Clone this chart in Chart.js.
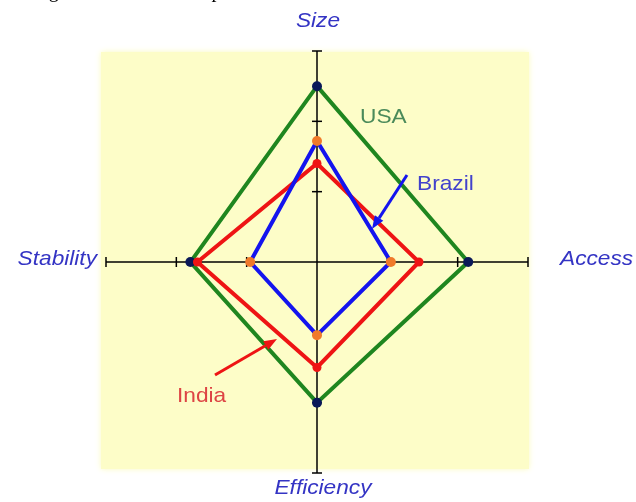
<!DOCTYPE html>
<html><head><meta charset="utf-8">
<script src="https://cdn.jsdelivr.net/npm/chart.js@4/dist/chart.umd.min.js"></script>
<style>
html,body{margin:0;padding:0;background:#fff;overflow:hidden}
#wrap{position:relative;width:636px;height:502px;overflow:hidden}
#cap{position:absolute;left:32px;top:-20px;font:20px/20px "Liberation Serif",serif;color:#000;white-space:nowrap}
canvas{position:absolute;left:0;top:0}
</style></head><body>
<div id="wrap"><canvas id="c" width="636" height="502"></canvas><div id="cap">Figure 1: Nations compared</div></div>
<script>
const axes = ['Size', 'Access', 'Efficiency', 'Stability'];
const usa = [2.5, 2.15, 2.0, 1.8];
const india = [1.4, 1.45, 1.5, 1.7];
const brazil = [1.72, 1.05, 1.04, 0.95];
const tickValues = [1, 2];
const scaleMax = 3;

function arrow(ctx, x1, y1, x2, y2, color) {
  ctx.save();
  ctx.strokeStyle = color; ctx.fillStyle = color; ctx.lineWidth = 3;
  const a = Math.atan2(y2 - y1, x2 - x1);
  const hl = 13, hw = 5;
  const bx = x2 - hl * Math.cos(a), by = y2 - hl * Math.sin(a);
  ctx.beginPath(); ctx.moveTo(x1, y1); ctx.lineTo(bx, by); ctx.stroke();
  ctx.beginPath();
  ctx.moveTo(x2, y2);
  ctx.lineTo(bx + hw * Math.sin(a), by - hw * Math.cos(a));
  ctx.lineTo(bx - hw * Math.sin(a), by + hw * Math.cos(a));
  ctx.closePath(); ctx.fill();
  ctx.restore();
}

function stretchText(ctx, text, x, y, align, sx) {
  const w = ctx.measureText(text).width * sx;
  let left = x;
  if (align === 'center') left = x - w / 2;
  else if (align === 'right') left = x - w;
  ctx.save();
  ctx.textAlign = 'left';
  ctx.translate(left, y);
  ctx.scale(sx, 1);
  ctx.fillText(text, 0, 0);
  ctx.restore();
}

const deco = {
  id: 'deco',
  beforeDraw(chart) {
    const ctx = chart.ctx;
    ctx.save();
    ctx.fillStyle = '#ffffff'; ctx.fillRect(0, 0, chart.width, chart.height);
    ctx.shadowColor = '#fbfbc0'; ctx.shadowBlur = 6;
    ctx.fillStyle = '#fdfdc8';
    ctx.fillRect(101, 52, 428, 417);
    ctx.restore();
  },
  beforeDatasetsDraw(chart) {
    const s = chart.scales.r, ctx = chart.ctx;
    ctx.save();
    ctx.strokeStyle = '#000'; ctx.lineWidth = 1.5;
    axes.forEach((a, i) => {
      const end = s.getPointPositionForValue(i, scaleMax);
      ctx.beginPath(); ctx.moveTo(s.xCenter, s.yCenter); ctx.lineTo(end.x, end.y); ctx.stroke();
      tickValues.concat([scaleMax]).forEach(v => {
        const p = s.getPointPositionForValue(i, v);
        const px = -Math.sin(p.angle), py = Math.cos(p.angle), h = 5;
        ctx.beginPath(); ctx.moveTo(p.x - px * h, p.y - py * h); ctx.lineTo(p.x + px * h, p.y + py * h); ctx.stroke();
      });
    });
    ctx.restore();
  },
  afterDraw(chart) {
    const s = chart.scales.r, ctx = chart.ctx;
    ctx.save();
    ctx.font = 'italic 21px "Liberation Sans", Arial, sans-serif';
    ctx.fillStyle = '#3434c4';
    ctx.textBaseline = 'alphabetic';
    const sx = 1.08;
    const top = s.getPointPositionForValue(0, scaleMax);
    const right = s.getPointPositionForValue(1, scaleMax);
    const bottom = s.getPointPositionForValue(2, scaleMax);
    const left = s.getPointPositionForValue(3, scaleMax);
    stretchText(ctx, axes[0], top.x + 1, top.y - 24, 'center', sx);
    stretchText(ctx, axes[1], right.x + 32, right.y + 3, 'left', sx);
    stretchText(ctx, axes[2], bottom.x + 6, bottom.y + 21, 'center', sx);
    stretchText(ctx, axes[3], left.x - 9, left.y + 3, 'right', sx);

    ctx.font = '21px "Liberation Sans", Arial, sans-serif';
    ctx.fillStyle = '#4a8a5a'; stretchText(ctx, 'USA', 360, 123, 'left', sx);
    ctx.fillStyle = '#4242cc'; stretchText(ctx, 'Brazil', 417, 190, 'left', sx);
    ctx.fillStyle = '#dd4444'; stretchText(ctx, 'India', 177, 402, 'left', sx);
    ctx.restore();
    arrow(ctx, 407, 175, 372, 229, '#1414ee');
    arrow(ctx, 215, 375, 277, 339, '#ee1414');
  }
};

new Chart(document.getElementById('c'), {
  type: 'radar',
  data: {
    labels: axes,
    datasets: [
      { label: 'Brazil', data: brazil, borderColor: '#1414ee', borderWidth: 4, backgroundColor: 'transparent', fill: false, tension: 0,
        pointBackgroundColor: '#f07a2a', pointBorderColor: '#f07a2a', pointRadius: 5, pointBorderWidth: 0 },
      { label: 'India', data: india, borderColor: '#ee1414', borderWidth: 4, backgroundColor: 'transparent', fill: false, tension: 0,
        pointBackgroundColor: '#ee1414', pointBorderColor: '#ee1414', pointRadius: 4.5, pointBorderWidth: 0 },
      { label: 'USA', data: usa, borderColor: '#1f861f', borderWidth: 4, backgroundColor: 'transparent', fill: false, tension: 0,
        pointBackgroundColor: '#0a1858', pointBorderColor: '#0a1858', pointRadius: 5, pointBorderWidth: 0 }
    ]
  },
  options: {
    responsive: false,
    animation: false,
    devicePixelRatio: 1,
    layout: { padding: { left: 106, right: 108, top: 51, bottom: 29 } },
    plugins: { legend: { display: false }, tooltip: { enabled: false } },
    scales: {
      r: {
        min: 0, max: scaleMax,
        ticks: { display: false, stepSize: 1 },
        grid: { display: false },
        angleLines: { display: false },
        pointLabels: { display: false }
      }
    }
  },
  plugins: [deco]
});
</script>
</body></html>
